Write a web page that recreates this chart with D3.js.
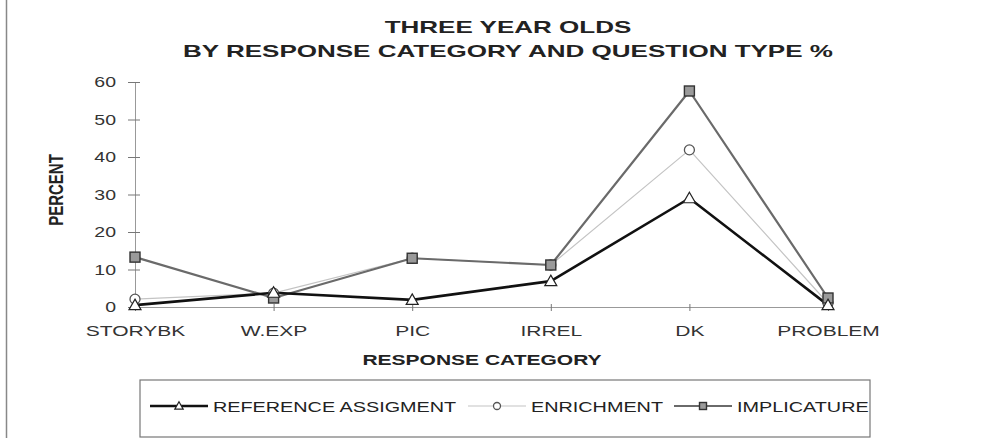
<!DOCTYPE html>
<html>
<head>
<meta charset="utf-8">
<script src="https://cdn.jsdelivr.net/npm/d3@7"></script>
<style>
  body { margin: 0; background: #fff; }
  svg { display: block; font-family: Arial, "Liberation Sans", sans-serif; }
</style>
</head>
<body>
<svg id="chart" width="987" height="438"></svg>
<script>
const categories = ["STORYBK", "W.EXP", "PIC", "IRREL", "DK", "PROBLEM"];
const referenceAssigment = [0.5, 3.8, 1.9, 6.9, 29, 0.5];
const enrichment = [2.1, 3.7, 13, 11.2, 41.9, 1];
const implicature = [13.3, 2.4, 13, 11.2, 57.6, 2.4];
const yTicks = [0, 10, 20, 30, 40, 50, 60];
const seriesNames = ["REFERENCE ASSIGMENT", "ENRICHMENT", "IMPLICATURE"];
const titleLines = ["THREE YEAR OLDS", "BY RESPONSE CATEGORY AND QUESTION TYPE %"];

let chart = function () {
    let self = {};
    self.svg = d3.select("#chart");

    // the scanned original is stretched sideways, so widen the text to match
    self.stretch = function (sel, k) {
        sel.each(function () {
            let w = this.getComputedTextLength();
            d3.select(this)
                .attr("textLength", w * k)
                .attr("lengthAdjust", "spacingAndGlyphs");
        });
    };

    self.x = d3.scalePoint().domain(categories).range([135, 828]);
    self.y = d3.scaleLinear().domain([0, 60]).range([307, 82]);

    self.series = [
        { name: seriesNames[0], values: referenceAssigment, stroke: "#111", width: 2.6, marker: "triangle" },
        { name: seriesNames[1], values: enrichment, stroke: "#c4c4c4", width: 1.2, marker: "circle" },
        { name: seriesNames[2], values: implicature, stroke: "#6a6a6a", width: 2.2, marker: "square" }
    ];

    self.drawMarker = function (g, type, size) {
        if (type === "triangle") {
            let s = size;
            g.append("path")
                .attr("d", "M0," + (-s * 0.6) + "L" + (s * 0.6) + "," + (s * 0.45) + "L" + (-s * 0.6) + "," + (s * 0.45) + "Z")
                .style("fill", "#fff").style("stroke", "#222").style("stroke-width", 1.2);
        } else if (type === "circle") {
            g.append("circle").attr("r", size * 0.5)
                .style("fill", "#fff").style("stroke", "#555").style("stroke-width", 1.3);
        } else {
            g.append("rect")
                .attr("x", -size * 0.5).attr("y", -size * 0.5)
                .attr("width", size).attr("height", size)
                .style("fill", "#9a9a9a").style("stroke", "#333").style("stroke-width", 1.4);
        }
    };

    self.render = function () {
        let svg = self.svg;

        // left frame edge
        svg.append("line")
            .attr("x1", 6.5).attr("x2", 6.5).attr("y1", 0).attr("y2", 438)
            .style("stroke", "#888").style("stroke-width", 1.5);

        // title
        svg.append("g").selectAll("text")
            .data(titleLines)
            .enter()
            .append("text")
            .attr("x", 508)
            .attr("y", function (d, i) { return 33 + i * 24; })
            .attr("text-anchor", "middle")
            .style("font-weight", "bold")
            .style("font-size", "17px")
            .style("fill", "#222")
            .text(function (d) { return d; })
            .call(self.stretch, 1.53);

        // y axis
        let yAxis = svg.append("g")
            .attr("transform", "translate(135,0)")
            .call(d3.axisLeft(self.y).tickValues(yTicks).tickSize(7).tickSizeOuter(0).tickPadding(12));
        yAxis.select(".domain").style("stroke", "#999");
        yAxis.selectAll(".tick line").attr("x1", 5).style("stroke", "#777");
        yAxis.selectAll(".tick text")
            .style("font-size", "15px")
            .style("fill", "#333")
            .call(self.stretch, 1.3);

        // x axis
        let xAxis = svg.append("g")
            .attr("transform", "translate(0,307)")
            .call(d3.axisBottom(self.x).tickSize(4).tickSizeOuter(0).tickPadding(14));
        xAxis.select(".domain").style("stroke", "#999");
        xAxis.selectAll(".tick line").attr("y1", -3).style("stroke", "#777");
        xAxis.selectAll(".tick text")
            .style("font-size", "15px")
            .style("fill", "#333")
            .call(self.stretch, 1.4);

        // axis titles
        svg.append("text")
            .attr("transform", "translate(63,190) scale(1.4,1) rotate(-90)")
            .attr("text-anchor", "middle")
            .style("font-weight", "bold")
            .style("font-size", "15px")
            .style("fill", "#222")
            .text("PERCENT");

        svg.append("text")
            .attr("x", 482).attr("y", 365)
            .attr("text-anchor", "middle")
            .style("font-weight", "bold")
            .style("font-size", "15px")
            .style("fill", "#222")
            .text("RESPONSE CATEGORY")
            .call(self.stretch, 1.4);

        // lines, light ones first so the dark line stays on top
        let line = d3.line()
            .x(function (d, i) { return self.x(categories[i]); })
            .y(function (d) { return self.y(d); });

        let order = [1, 2, 0];
        order.forEach(function (k) {
            let s = self.series[k];
            svg.append("path")
                .datum(s.values)
                .attr("d", line)
                .style("fill", "none")
                .style("stroke", s.stroke)
                .style("stroke-width", s.width)
                .style("stroke-linejoin", "round");
        });
        order.forEach(function (k) {
            let s = self.series[k];
            svg.append("g").selectAll("g")
                .data(s.values)
                .enter()
                .append("g")
                .attr("transform", function (d, i) {
                    return "translate(" + self.x(categories[i]) + "," + self.y(d) + ")";
                })
                .each(function () {
                    self.drawMarker(d3.select(this), s.marker, 10);
                });
        });

        // legend
        let legend = svg.append("g");
        legend.append("rect")
            .attr("x", 140).attr("y", 380).attr("width", 730).attr("height", 57)
            .style("fill", "none").style("stroke", "#777").style("stroke-width", 1.2);

        let legendX = [150, 468, 674];
        self.series.forEach(function (s, i) {
            let g = legend.append("g").attr("transform", "translate(" + legendX[i] + ",406)");
            g.append("line")
                .attr("x1", 0).attr("x2", 58)
                .style("stroke", s.stroke)
                .style("stroke-width", s.width);
            let m = g.append("g").attr("transform", "translate(29,0)");
            self.drawMarker(m, s.marker, 7);
            g.append("text")
                .attr("x", 63).attr("y", 5.5)
                .style("font-size", "15px")
                .style("fill", "#222")
                .text(s.name)
                .call(self.stretch, 1.32);
        });
    };

    self.render();
    return self;
};

chart();
</script>
</body>
</html>
